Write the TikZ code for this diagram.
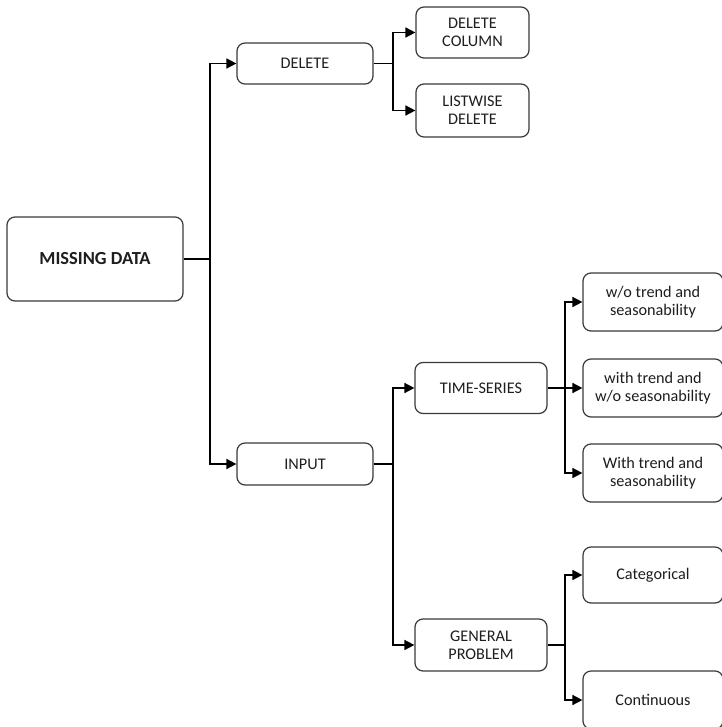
\documentclass[tikz,border=0pt]{standalone}
\usepackage{fontspec}
\setmainfont{Carlito}
\usetikzlibrary{arrows.meta}
\definecolor{boxline}{HTML}{3A3A3A}
\definecolor{txt}{HTML}{1E1E1E}
\tikzset{
  box/.style={draw=boxline, line width=1.2bp, rounded corners=8bp, fill=white,
    text=txt, align=center, inner sep=0pt, font=\fontsize{16.3}{18.5}\selectfont},
  link/.style={draw=black, line width=1.6bp},
  arr/.style={link, -{Triangle[length=10bp,width=10bp]}}
}
\begin{document}
\begin{tikzpicture}[x=1bp,y=-1bp]
\useasboundingbox (0,0) rectangle (722,727);
\clip (0,0) rectangle (722,727);

% root
\node[box, minimum width=176bp, minimum height=84bp,
      font=\fontsize{18.5}{21}\selectfont\bfseries] (md) at (95,259) {MISSING DATA};

% first level
\node[box, minimum width=136bp, minimum height=41bp] (del) at (305,63.5) {DELETE};
\node[box, minimum width=136bp, minimum height=42bp] (inp) at (305,464) {INPUT};

% delete branch
\node[box, minimum width=113bp, minimum height=51bp] (dc) at (472.5,32.5) {DELETE\\COLUMN};
\node[box, minimum width=113bp, minimum height=53bp] (lw) at (472.5,110.5) {LISTWISE\\DELETE};

% input branch
\node[box, minimum width=132bp, minimum height=51bp] (ts) at (481,388) {TIME-SERIES};
\node[box, minimum width=132bp, minimum height=52bp] (gp) at (481,645) {GENERAL\\PROBLEM};

% time-series leaves
\node[box, minimum width=140bp, minimum height=58bp] (t1) at (653,302) {w/o trend and\\seasonability};
\node[box, minimum width=140bp, minimum height=58bp] (t2) at (653,388) {with trend and\\w/o seasonability};
\node[box, minimum width=140bp, minimum height=58bp] (t3) at (653,473) {With trend and\\seasonability};

% general problem leaves
\node[box, minimum width=140bp, minimum height=56bp] (g1) at (653,575) {Categorical};
\node[box, minimum width=140bp, minimum height=58bp] (g2) at (653,700) {Continuous};

% junction points of the elbow connectors
\coordinate (j1) at (210,259);
\coordinate (j2) at (393,63.5);
\coordinate (j3) at (393,464);
\coordinate (j4) at (565,388);
\coordinate (j5) at (565,645);

\draw[link] (md.east) -- (j1);
\draw[arr] (j1) |- (del.west);
\draw[arr] (j1) |- (inp.west);

\draw[link] (del.east) -- (j2);
\draw[arr] (j2) |- (dc.west);
\draw[arr] (j2) |- (lw.west);

\draw[link] (inp.east) -- (j3);
\draw[arr] (j3) |- (ts.west);
\draw[arr] (j3) |- (gp.west);

\draw[link] (ts.east) -- (j4);
\draw[arr] (j4) |- (t1.west);
\draw[arr] (j4) -- (t2.west);
\draw[arr] (j4) |- (t3.west);

\draw[link] (gp.east) -- (j5);
\draw[arr] (j5) |- (g1.west);
\draw[arr] (j5) |- (g2.west);
\end{tikzpicture}
\end{document}
